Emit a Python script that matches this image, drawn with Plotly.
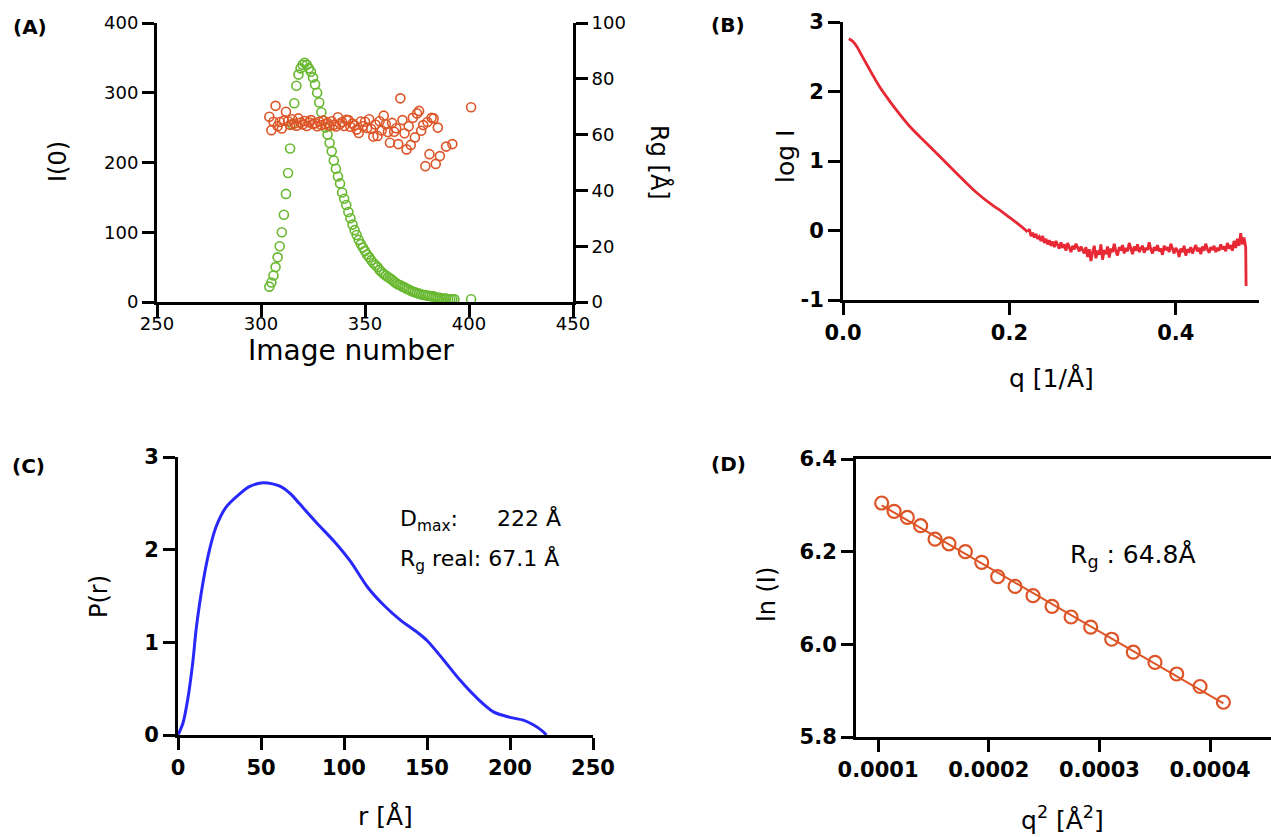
import numpy as np
import plotly.graph_objects as go

W, H = 1271, 837
FONT = "DejaVu Sans"

# ---------------- Panel A data ----------------
i0_image = list(range(304, 394)) + [401]
i0_values = [22, 28, 38, 50, 64, 80, 100, 125, 155, 185, 220, 255, 285, 310, 326, 335, 340, 343,
             340, 335, 330, 322, 312, 300, 286, 272, 260, 250,
             240, 228, 216, 203, 191, 180, 170, 157, 148, 139,
             129, 120, 111, 103, 96, 89, 83, 78, 73, 68,
             64, 60, 56, 53, 50, 46, 43, 40, 38, 36,
             34, 32, 29, 27, 25, 24, 22, 21, 19, 18,
             16, 15, 14, 13, 12, 11, 10, 10, 9, 9,
             8, 8, 7, 6, 6, 5, 5, 5, 4, 4,
             4, 4, 4]

rg_image = [304, 305, 306, 307, 308, 309, 310, 311, 312, 313, 314, 315, 316, 317, 318, 319, 320,
            321, 322, 323, 324, 325, 326, 327, 328, 329, 330, 331, 332, 333, 334, 335, 336, 337,
            338, 339, 340, 341, 342, 343, 344, 345, 346, 347, 348, 349, 350, 351, 352, 353, 354,
            355, 356, 357, 358, 359, 360, 361, 362, 363, 364, 365, 366, 367, 368, 369, 370, 371,
            372, 373, 374, 375, 376, 377, 378, 379, 380, 381, 382, 383, 384, 385, 386, 389, 392, 401]
rg_values = [66.4, 61.6, 64.6, 70.3, 63.0, 64.5, 62.2, 65.0, 68.2, 64.8, 63.5, 65.5, 64.0, 63.2,
             65.8, 64.3, 63.6, 64.9, 63.1, 64.4, 65.2, 63.8, 64.1, 63.0, 64.6, 63.4, 65.0, 63.7,
             64.2, 63.2, 64.8, 63.5, 62.9, 66.2, 63.8, 64.5, 63.1, 65.3, 65.2, 62.8, 64.0, 63.3,
             61.8, 60.6, 64.7, 63.0, 64.6, 62.4, 65.5, 62.0, 59.3, 63.6, 59.5, 64.8, 61.5, 66.8,
             63.7, 60.9, 57.1, 64.2, 61.0, 62.3, 56.6, 73.0, 65.2, 60.5, 54.7, 63.0, 56.3, 66.0,
             59.0, 67.6, 68.5, 61.4, 63.4, 48.7, 64.5, 53.0, 66.0, 65.8, 49.5, 62.5, 52.3, 55.7,
             56.6, 69.8]

# ---------------- Panel B data ----------------
q_smooth = [0.007, 0.012, 0.017, 0.022, 0.030, 0.037, 0.045, 0.055, 0.065, 0.080, 0.100,
            0.120, 0.140, 0.160, 0.180, 0.190, 0.200, 0.210, 0.222]
logi_smooth = [2.76, 2.72, 2.64, 2.53, 2.36, 2.21, 2.05, 1.88, 1.72, 1.50, 1.26,
               1.02, 0.78, 0.55, 0.36, 0.28, 0.19, 0.10, -0.02]
q_noise_start, q_noise_step = 0.222, 0.002
logi_noise = [-0.02, 0.02, -0.08, -0.03, -0.10, -0.05, -0.12, -0.09, -0.15, -0.08,
              -0.18, -0.12, -0.20, -0.14, -0.22, -0.16, -0.24, -0.15, -0.21, -0.26,
              -0.17, -0.25, -0.20, -0.29, -0.18, -0.24, -0.31, -0.22, -0.27, -0.19,
              -0.26, -0.30, -0.23, -0.28, -0.33, -0.24, -0.38, -0.27, -0.44, -0.31,
              -0.22, -0.40, -0.29, -0.35, -0.20, -0.42, -0.28, -0.34, -0.23, -0.39,
              -0.26, -0.31, -0.19, -0.30, -0.36, -0.24, -0.29, -0.21, -0.33, -0.25,
              -0.30, -0.18, -0.28, -0.34, -0.23, -0.29, -0.20, -0.31, -0.26, -0.22,
              -0.32, -0.25, -0.28, -0.17, -0.27, -0.33, -0.24, -0.29, -0.21, -0.30,
              -0.26, -0.35, -0.22, -0.28, -0.24, -0.31, -0.19, -0.27, -0.33, -0.25,
              -0.29, -0.38, -0.26, -0.31, -0.22, -0.36, -0.27, -0.30, -0.24, -0.33,
              -0.28, -0.21, -0.30, -0.25, -0.34, -0.23, -0.29, -0.19, -0.27, -0.32,
              -0.24, -0.28, -0.22, -0.31, -0.25, -0.29, -0.20, -0.27, -0.23, -0.30,
              -0.18, -0.26, -0.21, -0.29, -0.15, -0.25, -0.12, -0.22, -0.04, -0.20,
              -0.10, -0.24]
q_end = [0.4845]
logi_end = [-0.80]

# ---------------- Panel C data ----------------
r_vals = [0, 3, 6, 9, 11, 15, 19, 23, 29, 37, 43, 50, 57, 62, 68, 73, 84, 94, 104, 114,
          124, 134, 144, 150, 160, 170, 180, 190, 200, 208, 214, 219, 222]
pr_vals = [0, 0.13, 0.40, 0.80, 1.15, 1.64, 2.00, 2.25, 2.46, 2.60, 2.68, 2.72, 2.71, 2.68,
           2.60, 2.50, 2.28, 2.09, 1.87, 1.60, 1.40, 1.24, 1.11, 1.02, 0.81, 0.59, 0.40,
           0.25, 0.19, 0.16, 0.11, 0.05, 0]

# ---------------- Panel D data ----------------
q2_vals = [1.033e-4, 1.145e-4, 1.265e-4, 1.385e-4, 1.515e-4, 1.641e-4, 1.789e-4, 1.937e-4,
           2.081e-4, 2.238e-4, 2.400e-4, 2.572e-4, 2.744e-4, 2.921e-4, 3.111e-4, 3.306e-4,
           3.502e-4, 3.698e-4, 3.909e-4, 4.120e-4]
lni_vals = [6.305, 6.287, 6.274, 6.256, 6.227, 6.217, 6.200, 6.177, 6.146, 6.125, 6.105,
            6.082, 6.059, 6.037, 6.011, 5.983, 5.961, 5.936, 5.909, 5.875]

GREEN = "rgb(104,184,48)"
ORANGE = "rgb(221,84,38)"
RED = "rgb(232,40,52)"
BLUE = "rgb(40,40,250)"


def px_x(p):
    return p / W


def px_y(p):
    return 1 - p / H


fig = go.Figure()

# A
fig.add_trace(go.Scatter(x=i0_image, y=i0_values, mode="markers", xaxis="x", yaxis="y",
                         marker=dict(symbol="circle-open", size=9, color=GREEN,
                                     line=dict(width=1.6, color=GREEN)), showlegend=False))
fig.add_trace(go.Scatter(x=rg_image, y=rg_values, mode="markers", xaxis="x", yaxis="y2",
                         marker=dict(symbol="circle-open", size=9, color=ORANGE,
                                     line=dict(width=1.6, color=ORANGE)), showlegend=False))
# B
q_noise = [round(q_noise_start + q_noise_step * i, 4) for i in range(len(logi_noise))]
fig.add_trace(go.Scatter(x=q_smooth, y=logi_smooth, mode="lines", xaxis="x2", yaxis="y3",
                         line=dict(color=RED, width=2.8, shape="spline", smoothing=1.0),
                         showlegend=False))
fig.add_trace(go.Scatter(x=q_noise + q_end, y=logi_noise + logi_end,
                         mode="lines", xaxis="x2", yaxis="y3",
                         line=dict(color=RED, width=2.8), showlegend=False))
# C
fig.add_trace(go.Scatter(x=r_vals, y=pr_vals, mode="lines", xaxis="x3", yaxis="y4",
                         line=dict(color=BLUE, width=3, shape="spline", smoothing=0.8),
                         showlegend=False))
# D
coef = np.polyfit(q2_vals, lni_vals, 1)
fit_x = [q2_vals[0], q2_vals[-1]]
fit_y = list(np.polyval(coef, fit_x))
fig.add_trace(go.Scatter(x=fit_x, y=fit_y, mode="lines", xaxis="x4", yaxis="y5",
                         line=dict(color=ORANGE, width=2), showlegend=False))
fig.add_trace(go.Scatter(x=q2_vals, y=lni_vals, mode="markers", xaxis="x4", yaxis="y5",
                         marker=dict(symbol="circle-open", size=13, color=ORANGE,
                                     line=dict(width=2.2, color=ORANGE)), showlegend=False))

reg_tick = dict(family=FONT, size=18, color="black")
bold_tick = dict(family=FONT, size=21, color="black", weight="bold")

base = dict(showline=True, linewidth=3, linecolor="black", ticks="outside", ticklen=12,
            tickwidth=2.5, tickcolor="black", showgrid=False, zeroline=False, fixedrange=True,
            automargin=False)

fig.update_layout(
    width=W, height=H, margin=dict(l=0, r=0, t=0, b=0, pad=0, autoexpand=False),
    paper_bgcolor="white", plot_bgcolor="white",
    xaxis=dict(base, domain=[px_x(157), px_x(573)], range=[250, 450], anchor="y",
               tickvals=[250, 300, 350, 400, 450], tickfont=reg_tick, ticklabelstandoff=-9),
    yaxis=dict(base, domain=[px_y(302), px_y(23)], range=[0, 400], anchor="x",
               tickvals=[0, 100, 200, 300, 400], tickfont=reg_tick),
    yaxis2=dict(base, range=[0, 100], overlaying="y", side="right", anchor="x",
                tickvals=[0, 20, 40, 60, 80, 100], tickfont=reg_tick),
    xaxis2=dict(base, domain=[px_x(843), px_x(1259)], range=[0, 0.5], anchor="y3",
                tickvals=[0, 0.2, 0.4], ticktext=["0.0", "0.2", "0.4"], tickfont=bold_tick),
    yaxis3=dict(base, domain=[px_y(300), px_y(22)], range=[-1, 3], anchor="x2",
                tickvals=[-1, 0, 1, 2, 3], ticktext=["-1", "0", "1", "2", "3"], tickfont=bold_tick),
    xaxis3=dict(base, domain=[px_x(178), px_x(593)], range=[0, 250], anchor="y4",
                tickvals=[0, 50, 100, 150, 200, 250], tickfont=bold_tick),
    yaxis4=dict(base, domain=[px_y(735), px_y(457)], range=[0, 3], anchor="x3",
                tickvals=[0, 1, 2, 3], tickfont=bold_tick),
    xaxis4=dict(base, domain=[px_x(856), 1.0], range=[0.0000801, 0.000455], anchor="y5",
                mirror=True, tickvals=[0.0001, 0.0002, 0.0003, 0.0004],
                ticktext=["0.0001", "0.0002", "0.0003", "0.0004"], tickfont=bold_tick),
    yaxis5=dict(base, domain=[px_y(737), px_y(459)], range=[5.8, 6.4], anchor="x4",
                tickvals=[5.8, 6.0, 6.2, 6.4], ticktext=["5.8", "6.0", "6.2", "6.4"],
                tickfont=bold_tick),
)

TITLE = dict(family=FONT, size=25, color="black")
annots = []


def ann(text, x, y, font, angle=0, xanchor="center"):
    annots.append(dict(text=text, x=px_x(x), y=px_y(y), xref="paper", yref="paper",
                       showarrow=False, font=font, textangle=angle, xanchor=xanchor,
                       yanchor="middle"))


LABEL = dict(family=FONT, size=20, color="black", weight="bold")
ann("(A)", 30, 27, LABEL)
ann("(B)", 728, 25, LABEL)
ann("(C)", 28, 466, LABEL)
ann("(D)", 728, 464, LABEL)

ann("I(0)", 58, 162, dict(TITLE, size=24), angle=-90)
ann("Rg [Å]", 660, 162, dict(TITLE, size=24), angle=90)
ann("Image number", 351, 350, dict(TITLE, size=28))

ann("log I", 785, 157, dict(TITLE, size=25), angle=-90)
ann("q [1/Å]", 1051, 378, dict(TITLE, size=25))

ann("P(r)", 99, 597, dict(TITLE, size=24), angle=-90)
ann("r [Å]", 385, 816, dict(TITLE, size=25))

ann("ln (I)", 767, 595, dict(TITLE, size=24), angle=-90)
ann("q<sup>2</sup> [Å<sup>2</sup>]", 1062, 818, dict(TITLE, size=25))

NOTE = dict(family=FONT, size=22, color="black")
ann("D<sub>max</sub>:", 398, 520, NOTE, xanchor="left")
ann("222 Å", 495, 518, NOTE, xanchor="left")
ann("R<sub>g</sub> real: 67.1 Å", 398, 560, NOTE, xanchor="left")
ann("R<sub>g</sub> : 64.8Å", 1068, 556, dict(NOTE, size=25), xanchor="left")

fig.update_layout(annotations=annots)

fig.write_html("out.html")
